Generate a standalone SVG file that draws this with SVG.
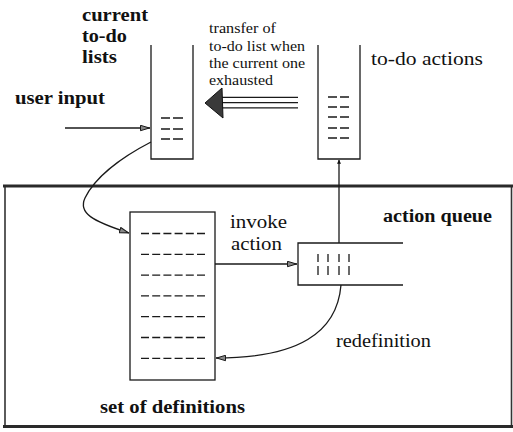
<svg xmlns="http://www.w3.org/2000/svg" width="513" height="432" viewBox="0 0 513 432">
<defs>
<style>
.ln{fill:none;stroke:#1a1a1a;stroke-width:1.3}
.bx{fill:#fff;stroke:#1a1a1a;stroke-width:1.3}
.ds{fill:none;stroke:#1a1a1a;stroke-width:1.3}
text{font-family:'Liberation Serif','Times New Roman',serif;fill:#111}
.lb{font-size:18px}
.bd{font-size:18px;font-weight:bold}
.sm{font-size:15px}
</style>
<marker id="hollow" viewBox="0 0 10 7" refX="10" refY="3.5" markerWidth="10" markerHeight="7" markerUnits="userSpaceOnUse" orient="auto">
<path d="M0.5,0.8 L9.5,3.5 L0.5,6.2 z" fill="#888" stroke="#1a1a1a" stroke-width="1"/>
</marker>
<marker id="solid" viewBox="0 0 7 12" refX="6.5" refY="3.5" markerWidth="12" markerHeight="7" markerUnits="userSpaceOnUse" orient="auto">
<path d="M0,0 L7,3.5 L0,7 z" fill="#111"/>
</marker>
</defs>
<rect width="513" height="432" fill="#fff"/>

<g id="container">
<line x1="5" y1="186" x2="5" y2="427" stroke="#333" stroke-width="1.6"/>
<line x1="511.5" y1="186" x2="511.5" y2="427" stroke="#333" stroke-width="1.6"/>
<line x1="3" y1="186" x2="513" y2="186" stroke="#2a2a2a" stroke-width="3"/>
<line x1="3" y1="426.5" x2="513" y2="426.5" stroke="#2a2a2a" stroke-width="3"/>
</g>

<g id="current-lists">
<path class="ln" d="M151,45 V159 H193 V45"/>
<path class="ds" d="M161,118H170M173,118H183M161,129H170M173,129H183M161,139H170M173,139H183"/>
<text class="bd" font-family="Liberation Serif, serif" x="82" y="21" textLength="66" lengthAdjust="spacingAndGlyphs">current</text>
<text class="bd" font-family="Liberation Serif, serif" x="82" y="42" textLength="45" lengthAdjust="spacingAndGlyphs">to-do</text>
<text class="bd" font-family="Liberation Serif, serif" x="82" y="63" textLength="35" lengthAdjust="spacingAndGlyphs">lists</text>
</g>

<g id="todo-actions">
<path class="ln" d="M318,45 V159 H360 V45"/>
<path class="ds" d="M328,97H337M340,97H349M328,107H337M340,107H349M328,117H337M340,117H349M328,128H337M340,128H349M328,138H337M340,138H349"/>
<text class="lb" font-family="Liberation Serif, serif" x="371" y="65" textLength="112" lengthAdjust="spacingAndGlyphs">to-do actions</text>
</g>

<g id="definitions">
<rect class="bx" x="130" y="212" width="85" height="168"/>
<path class="ds" stroke-dasharray="8 3.2" d="M141,233.5H205M141,254.3H205M141,275.1H205M141,295.9H205M141,316.7H205M141,337.5H205M141,358.3H205"/>
<text class="bd" font-family="Liberation Serif, serif" x="100" y="413" textLength="145" lengthAdjust="spacingAndGlyphs">set of definitions</text>
</g>

<g id="action-queue">
<path class="ln" d="M403,243 H298 V285 H403"/>
<path class="ds" stroke-dasharray="8 4 9" d="M318,254V276M328,254V276M339,254V276M349,254V276"/>
<text class="bd" font-family="Liberation Serif, serif" x="383" y="222" textLength="109" lengthAdjust="spacingAndGlyphs">action queue</text>
</g>

<g id="user-input">
<text class="bd" font-family="Liberation Serif, serif" x="15" y="104" textLength="90" lengthAdjust="spacingAndGlyphs">user input</text>
</g>

<g id="connectors">
<line class="ln" x1="65" y1="128" x2="150" y2="128" marker-end="url(#hollow)"/>
<path class="ln" d="M151,142 C122,157 95,177 85,198 C78,213 92,221 129,233" marker-end="url(#hollow)"/>
<line class="ln" x1="215" y1="264" x2="297" y2="264" marker-end="url(#hollow)"/>
<path class="ln" d="M341,285 C337,333 298,358 216,358" marker-end="url(#hollow)"/>
<line class="ln" x1="339" y1="243" x2="339" y2="160" marker-end="url(#solid)"/>
<g id="transfer-arrow">
<path d="M222,97.3H298M222,102.6H298M222,107.8H298" fill="none" stroke="#1a1a1a" stroke-width="1.3"/>
<path d="M205,103 L222,88 L223,118 z" fill="#3a3a3a" stroke="#111" stroke-width="1"/>
</g>
<text class="lb" font-family="Liberation Serif, serif" x="230" y="228" textLength="57" lengthAdjust="spacingAndGlyphs">invoke</text>
<text class="lb" font-family="Liberation Serif, serif" x="231" y="250" textLength="51" lengthAdjust="spacingAndGlyphs">action</text>
<text class="lb" font-family="Liberation Serif, serif" x="336" y="347" textLength="95" lengthAdjust="spacingAndGlyphs">redefinition</text>
<text class="sm" font-family="Liberation Serif, serif" x="209" y="33" textLength="67" lengthAdjust="spacingAndGlyphs">transfer of</text>
<text class="sm" font-family="Liberation Serif, serif" x="209" y="51" textLength="96" lengthAdjust="spacingAndGlyphs">to-do list when</text>
<text class="sm" font-family="Liberation Serif, serif" x="209" y="68" textLength="96" lengthAdjust="spacingAndGlyphs">the current one</text>
<text class="sm" font-family="Liberation Serif, serif" x="209" y="85" textLength="64" lengthAdjust="spacingAndGlyphs">exhausted</text>
</g>
</svg>
